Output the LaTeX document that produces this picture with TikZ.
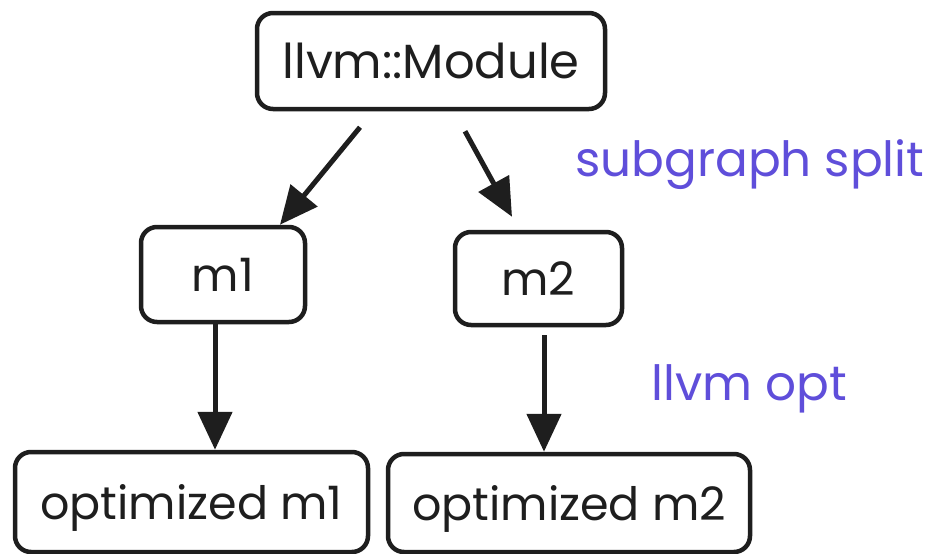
\documentclass[tikz,border=0pt]{standalone}
\usepackage{fontspec}
\setmainfont{Poppins}
\usetikzlibrary{arrows.meta}

\definecolor{ink}{HTML}{1E1E1E}
\definecolor{note}{RGB}{95,78,218}

\tikzset{
  box/.style={draw=ink, line width=4.5pt, rounded corners=16pt, inner sep=0pt,
              text=ink, align=center},
  bigtext/.style={font=\fontsize{48}{58}\selectfont},
  smalltext/.style={font=\fontsize{46}{54}\selectfont},
  arr/.style={draw=ink, line width=5pt,
              -{Triangle[length=38pt,width=34pt]}},
  notetext/.style={text=note, inner sep=0pt, font=\fontsize{48.5}{58}\selectfont}
}

\begin{document}
\begin{tikzpicture}[x=1pt,y=-1pt]
  \useasboundingbox (0,0) rectangle (938,554);

  % boxes
  \node[box, bigtext, minimum width=348pt, minimum height=96pt] (mod) at (431,61) {llvm::Module};
  \node[box, smalltext, minimum width=164pt, minimum height=95pt] (m1) at (223,274.5) {m1};
  \node[box, smalltext, minimum width=167pt, minimum height=93pt] (m2) at (538.5,278.5) {m2};
  \node[box, smalltext, text depth=0pt, minimum width=353pt, minimum height=100pt] (om1) at (191.5,502) {optimized m1};
  \node[box, smalltext, text depth=0pt, minimum width=362pt, minimum height=98pt] (om2) at (569,503) {optimized m2};

  % side notes
  \node[notetext, anchor=base west] (split) at (575,176) {subgraph split};
  \node[notetext, anchor=base west] (opt) at (651,400) {llvm opt};

  % connectors
  \draw[arr] ([xshift=-71pt,yshift=-16pt]mod.south) -- ([xshift=57pt]m1.north);
  \draw[arr] ([xshift=34pt,yshift=-20pt]mod.south) -- ([xshift=-26.5pt,yshift=13pt]m2.north);
  \draw[arr] ([xshift=-8pt]m1.south) -- ([xshift=-8pt]m1.south |- om1.north);
  \draw[arr] ([xshift=5.5pt,yshift=-8pt]m2.south) -- ([xshift=5.5pt]m2.south |- om2.north);
\end{tikzpicture}
\end{document}
